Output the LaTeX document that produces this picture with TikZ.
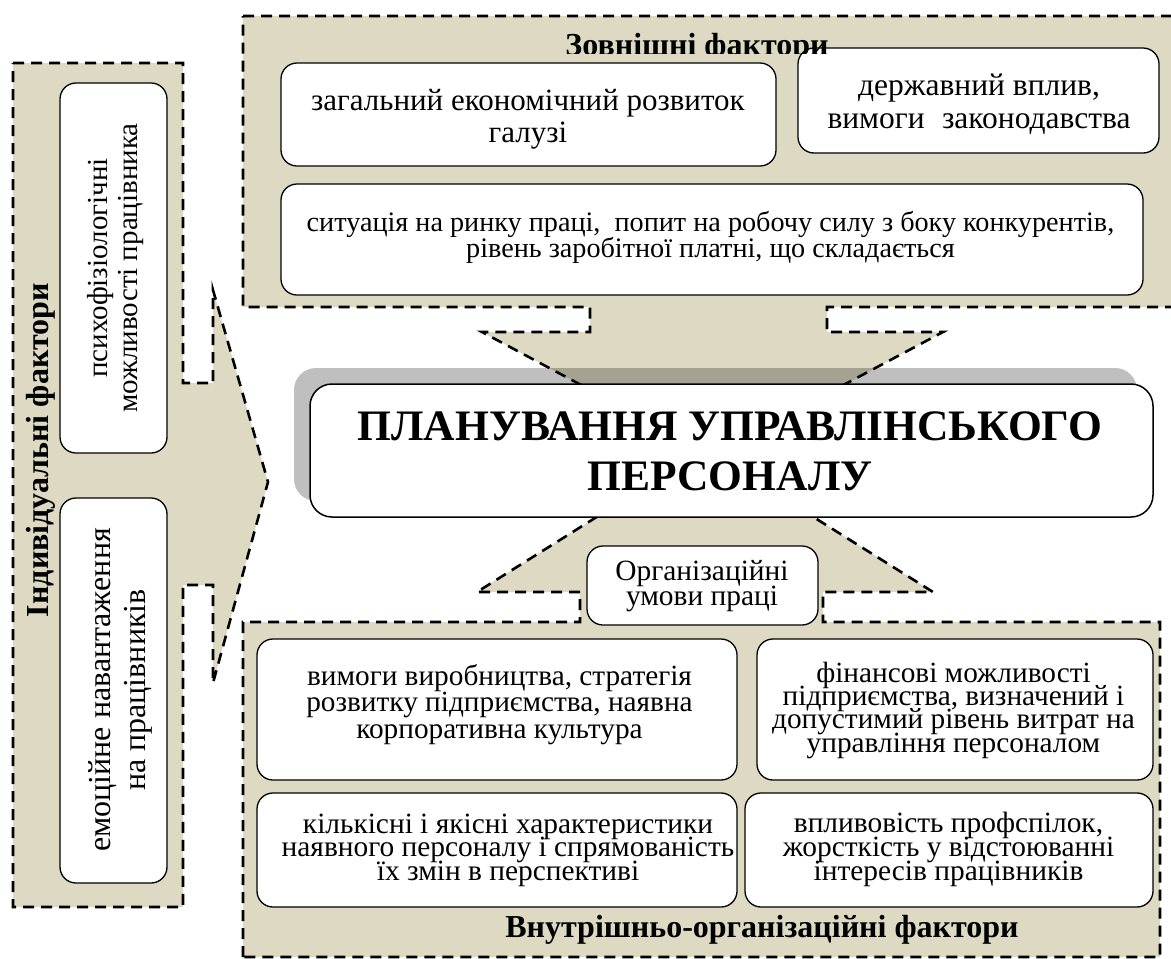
\documentclass[tikz,border=0pt]{standalone}
\usepackage{fontspec}
\setmainfont{Liberation Serif}
\definecolor{panelfill}{HTML}{DDD9C3}
\begin{document}
\lineskiplimit=-1000pt
\lineskip=0pt
\begin{tikzpicture}[x=1pt,y=-1pt,
  panel/.style={fill=panelfill, draw=black, line width=2.6pt, dash pattern=on 11pt off 7pt},
  fbox/.style={draw=black, fill=white, line width=1.3pt, rounded corners=16pt, inner sep=0pt},
  txt/.style={align=center, inner sep=0pt, anchor=base},
  ttl/.style={font=\bfseries\fontsize{32}{32}\selectfont, inner sep=0pt, anchor=base}
]
\useasboundingbox (0,0) rectangle (1171,959);

% panels with arrows
\draw[panel] (13,63) -- (183,63) -- (183,383) -- (213,383) -- (213,290) -- (268,482) -- (213,683) -- (213,585) -- (183,585) -- (183,907) -- (13,907) -- cycle;
\draw[panel] (243,16) -- (1185,16) -- (1185,307) -- (827,307) -- (827,332) -- (943,332) -- (712,455) -- (482,332) -- (590,332) -- (590,307) -- (243,307) -- cycle;
\draw[panel] (243,957) -- (243,622) -- (580,622) -- (580,592) -- (477,592) -- (705,449) -- (933,592) -- (823,592) -- (823,622) -- (1160,622) -- (1160,957) -- cycle;

% left boxes
\node[fbox, minimum width=107pt, minimum height=370pt] (psy) at (113.5,268) {};
\node[txt, rotate=90, font=\fontsize{29}{30}\selectfont] (psyt) at (137,268) {психофізіологічні\\можливості працівника};
\node[fbox, minimum width=107pt, minimum height=385pt] (emo) at (113.5,690.5) {};
\node[txt, rotate=90, font=\fontsize{32}{35}\selectfont] (emot) at (145,690) {емоційне навантаження\\на працівників};
\node[ttl, rotate=90] (indt) at (48,450) {Індивідуальні фактори};

% top boxes
\node[fbox, minimum width=495pt, minimum height=103pt] (econ) at (528.5,114.5) {};
\node[txt, font=\fontsize{31}{32}\selectfont] (econt) at (528,142) {загальний економічний розвиток\\галузі};
\node[fbox, minimum width=361pt, minimum height=105pt] (state) at (978.5,100.5) {};
\node[txt, font=\fontsize{31.5}{33}\selectfont] (statet) at (979,128) {державний вплив,\\вимоги\hspace{0.55em}законодавства};
\node[fbox, minimum width=862pt, minimum height=111pt] (market) at (712,239.5) {};
\node[txt, font=\fontsize{28.2}{26}\selectfont] (markett) at (710.5,257) {ситуація на ринку праці,\ \ попит на робочу силу з боку конкурентів,\\рівень заробітної платні, що складається};
\begin{scope}
\clip (500,20) rectangle (900,53.5);
\node[ttl] (ext) at (697,55) {Зовнішні фактори};
\end{scope}

% bottom boxes
\node[fbox, minimum width=231pt, minimum height=79pt] (org) at (702.5,585.5) {};
\node[txt, font=\fontsize{29.4}{25}\selectfont] (orgt) at (702,605) {Організаційні\\умови праці};
\node[fbox, minimum width=480pt, minimum height=141pt] (prod) at (497,709.5) {};
\node[txt, font=\fontsize{29.3}{26.5}\selectfont] (prodt) at (499.5,738) {вимоги виробництва, стратегія\\розвитку підприємства, наявна\\корпоративна культура};
\node[fbox, minimum width=396pt, minimum height=141pt] (fin) at (955,709.5) {};
\node[txt, font=\fontsize{29.3}{23.3}\selectfont] (fint) at (953.5,752) {фінансові можливості\\підприємства, визначений і\\допустимий рівень витрат на\\управління персоналом};
\node[fbox, minimum width=480pt, minimum height=114pt] (qual) at (497,850) {};
\node[txt, font=\fontsize{29.4}{23.5}\selectfont] (qualt) at (508,880) {кількісні і якісні характеристики\\наявного персоналу і спрямованість\\їх змін в перспективі};
\node[fbox, minimum width=408pt, minimum height=114pt] (union) at (949,850) {};
\node[txt, font=\fontsize{29.4}{24}\selectfont] (uniont) at (948.5,880) {впливовість профспілок,\\жорсткість у відстоюванні\\інтересів працівників};
\node[ttl] (intt) at (762,937) {Внутрішньо-організаційні фактори};

% central box with shadow
\fill[black, opacity=0.25, rounded corners=22pt] (294,368) rectangle (1137,501);
\node[fbox, line width=1.5pt, rounded corners=22pt, minimum width=843pt, minimum height=133pt] (plan) at (731.5,450.5) {};
\node[txt, font=\bfseries\fontsize{43.5}{50}\selectfont] (plant) at (730,490) {ПЛАНУВАННЯ УПРАВЛІНСЬКОГО\\ПЕРСОНАЛУ};
\end{tikzpicture}
\end{document}
